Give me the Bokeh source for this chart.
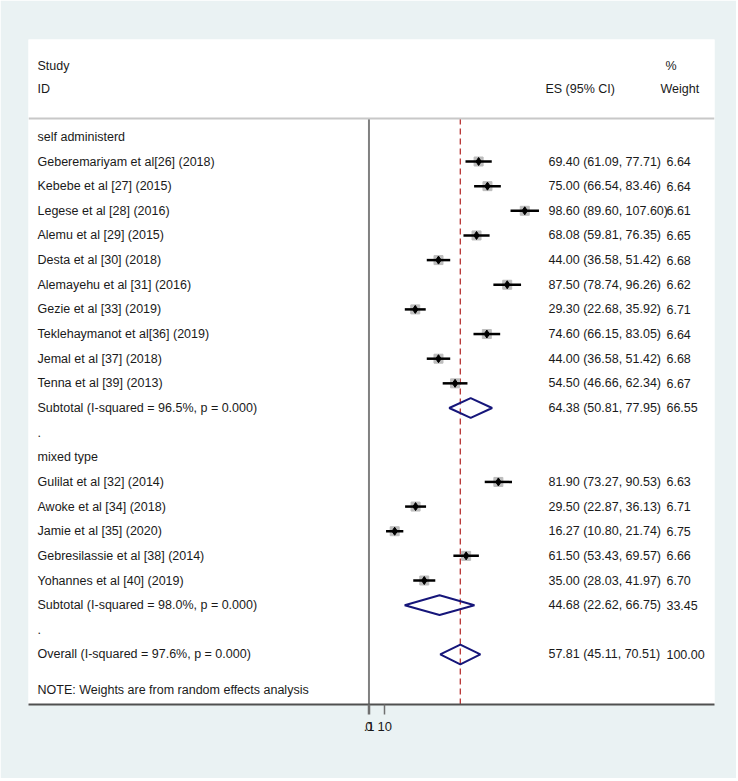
from bokeh.plotting import figure
from bokeh.models import Range1d, ColumnDataSource, FixedTicker, Span
from bokeh.core.properties import value
from bokeh.embed import file_html
from bokeh.resources import INLINE

# ---------------- data ----------------
group_labels = ["self administerd", "mixed type"]
group_rows = [0, 13]

study_labels = [
    "Geberemariyam et al[26] (2018)",
    "Kebebe et al [27] (2015)",
    "Legese et al [28] (2016)",
    "Alemu et al [29] (2015)",
    "Desta et al [30] (2018)",
    "Alemayehu et al [31] (2016)",
    "Gezie et al [33] (2019)",
    "Teklehaymanot et al[36] (2019)",
    "Jemal et al [37] (2018)",
    "Tenna et al [39] (2013)",
    "Gulilat et al [32] (2014)",
    "Awoke et al [34] (2018)",
    "Jamie et al [35] (2020)",
    "Gebresilassie et al [38] (2014)",
    "Yohannes et al [40] (2019)",
]
study_rows = [1, 2, 3, 4, 5, 6, 7, 8, 9, 10, 14, 15, 16, 17, 18]
study_es = [69.40, 75.00, 98.60, 68.08, 44.00, 87.50, 29.30, 74.60, 44.00, 54.50,
            81.90, 29.50, 16.27, 61.50, 35.00]
study_lo = [61.09, 66.54, 89.60, 59.81, 36.58, 78.74, 22.68, 66.15, 36.58, 46.66,
            73.27, 22.87, 10.80, 53.43, 28.03]
study_hi = [77.71, 83.46, 107.60, 76.35, 51.42, 96.26, 35.92, 83.05, 51.42, 62.34,
            90.53, 36.13, 21.74, 69.57, 41.97]
study_wt = [6.64, 6.64, 6.61, 6.65, 6.68, 6.62, 6.71, 6.64, 6.68, 6.67,
            6.63, 6.71, 6.75, 6.66, 6.70]

pooled_labels = [
    "Subtotal  (I-squared = 96.5%, p = 0.000)",
    "Subtotal  (I-squared = 98.0%, p = 0.000)",
    "Overall  (I-squared = 97.6%, p = 0.000)",
]
pooled_rows = [11, 19, 21]
pooled_es = [64.38, 44.68, 57.81]
pooled_lo = [50.81, 22.62, 45.11]
pooled_hi = [77.95, 66.75, 70.51]
pooled_wt = [66.55, 33.45, 100.00]

spacer_rows = [12, 20]
note_text = "NOTE: Weights are from random effects analysis"
note_row = 22.46

x_ticks = [0, 0.1, 10]
x_tick_labels = ["0", ".1", "10"]

# ---------------- layout constants ----------------
FONT = "Liberation Sans"
FS = "12.5px"
TXT = "#1a1a1a"
X_LABEL = -209.8
X_ES = 113.6
X_WT = 188.3
X_ES_HEAD = 111.7
X_WT_HEAD = 184.5
X_PCT_HEAD = 187.7
Y_TOP = -3.95
Y_BOT = 23.03
Y_SEP = -0.74

p = figure(width=736, height=778, output_backend="svg", toolbar_location=None,
           x_range=Range1d(-215.5, 218.7), y_range=Range1d(Y_BOT, Y_TOP),
           min_border_left=28, min_border_top=39, min_border_right=22,
           min_border_bottom=74)
p.border_fill_color = "#eaf2f3"
p.background_fill_color = "white"
p.outline_line_color = None
p.grid.visible = False
p.yaxis.visible = False

ax = p.xaxis[0]
ax.ticker = FixedTicker(ticks=x_ticks)
ax.major_label_overrides = {t: l for t, l in zip(x_ticks, x_tick_labels)}
ax.minor_tick_line_color = None
ax.axis_line_color = "#505050"
ax.axis_line_width = 2
ax.major_tick_line_color = "#707070"
ax.major_tick_line_width = 1.5
ax.major_tick_out = 10
ax.major_tick_in = 0
ax.major_label_standoff = 7
ax.major_label_text_font = FONT
ax.major_label_text_font_size = "13px"
ax.major_label_text_color = TXT

# header separator
p.add_layout(Span(location=Y_SEP, dimension="width", line_color="#c8c8c8", line_width=2))

# null line and overall line
p.segment(x0=[0], y0=[Y_SEP], x1=[0], y1=[Y_BOT], line_color="#808080", line_width=2)
p.segment(x0=[pooled_es[-1]], y0=[Y_SEP], x1=[pooled_es[-1]], y1=[Y_BOT],
          line_color="#b83232", line_width=1.3, line_dash="6 4")

# studies
src = ColumnDataSource(dict(
    y=study_rows, es=study_es, lo=study_lo, hi=study_hi, wt=study_wt,
    label=study_labels,
    estxt=[f"{e:.2f} ({l:.2f}, {h:.2f})" for e, l, h in zip(study_es, study_lo, study_hi)],
    wttxt=[f"{w:.2f}" for w in study_wt],
))
p.scatter(x="es", y="y", source=src, marker="square", size=9,
          fill_color="#bdbdbd", line_color="#bdbdbd")
p.segment(x0="lo", y0="y", x1="hi", y1="y", source=src, line_color="black", line_width=2.5)
p.scatter(x="es", y="y", source=src, marker="diamond", size=8,
          fill_color="black", line_color="black")

# pooled diamonds
H = 0.4
dxs = [[l, e, h, e] for e, l, h in zip(pooled_es, pooled_lo, pooled_hi)]
dys = [[r, r - H, r, r + H] for r in pooled_rows]
p.patches(xs=dxs, ys=dys, fill_color=None, line_color="#16167a", line_width=2)

psrc = ColumnDataSource(dict(
    y=pooled_rows, label=pooled_labels,
    estxt=[f"{e:.2f} ({l:.2f}, {h:.2f})" for e, l, h in zip(pooled_es, pooled_lo, pooled_hi)],
    wttxt=[f"{w:.2f}" for w in pooled_wt],
))

def add_text(xs, ys, texts):
    p.text(x=xs, y=ys, text=texts, text_font=value(FONT), text_font_size=FS,
           text_color=TXT, text_align="left", text_baseline="middle")

add_text([X_LABEL] * len(study_rows), study_rows, study_labels)
add_text([X_ES] * len(study_rows), study_rows, src.data["estxt"])
add_text([X_WT] * len(study_rows), study_rows, src.data["wttxt"])
add_text([X_LABEL] * len(pooled_rows), pooled_rows, pooled_labels)
add_text([X_ES] * len(pooled_rows), pooled_rows, psrc.data["estxt"])
add_text([X_WT] * len(pooled_rows), pooled_rows, psrc.data["wttxt"])
add_text([X_LABEL] * len(group_rows), group_rows, group_labels)
add_text([X_LABEL] * len(spacer_rows), spacer_rows, ["."] * len(spacer_rows))
add_text([X_LABEL], [note_row], [note_text])

# headers
add_text([X_LABEL, X_LABEL], [-2.89, -1.96], ["Study", "ID"])
add_text([X_ES_HEAD], [-1.96], ["ES (95% CI)"])
add_text([X_PCT_HEAD, X_WT_HEAD], [-2.89, -1.96], ["%", "Weight"])

open("out.html", "w").write(file_html(p, INLINE))
